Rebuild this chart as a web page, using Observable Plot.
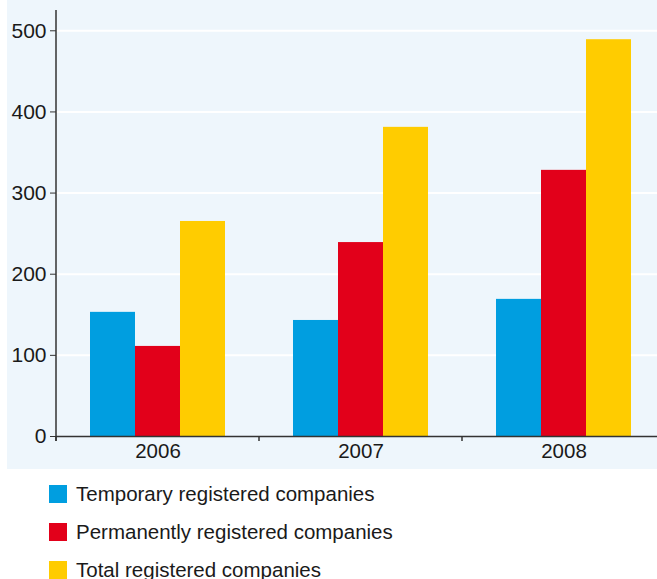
<!DOCTYPE html>
<html>
<head>
<meta charset="utf-8">
<script src="https://cdn.jsdelivr.net/npm/d3@7"></script>
<script src="https://cdn.jsdelivr.net/npm/@observablehq/plot@0.6"></script>
<style>
  html, body { margin: 0; padding: 0; background: #ffffff; }
  body { font-family: "Liberation Sans", Arial, sans-serif; width: 657px; height: 579px; overflow: hidden; }
  #panel { margin-left: 7px; width: 650px; height: 469px; overflow: hidden; background: #eef6fc; }
  #panel svg { max-width: none !important; display: block; }
  #legend { margin-top: 6px; }
  .row { display: flex; align-items: center; height: 38px; font-size: 20.5px; color: #1a1a1a; }
  .sw { width: 18px; height: 18px; margin-left: 49px; margin-right: 9px; }
</style>
</head>
<body>
<div id="panel"></div>
<div id="legend"></div>
<script>
const years = ["2006", "2007", "2008"];
const series = ["Temporary registered companies", "Permanently registered companies", "Total registered companies"];
const colors = ["#009ee0", "#e2001a", "#ffcc00"];
const temporary = [153, 143, 169];
const permanent = [111, 239, 328];
const total = [265, 381, 489];
const yTicks = [0, 100, 200, 300, 400, 500];

const values = [temporary, permanent, total];
const data = [];
years.forEach((yr, i) => series.forEach((s, j) => data.push({year: yr, series: s, value: values[j][i]})));

const W = 658, H = 469, mL = 49, mT = 10, mB = 33;
const chart = Plot.plot({
  width: W, height: H,
  marginLeft: mL, marginRight: 0, marginTop: mT, marginBottom: mB,
  style: {background: "transparent", fontFamily: "Liberation Sans, Arial, sans-serif", fontSize: "20.5px", color: "#1a1a1a", maxWidth: "none"},
  fx: {domain: years, padding: 0, label: null, axis: null},
  x: {domain: series, paddingInner: 0, paddingOuter: 0.74, axis: null},
  y: {domain: [0, 525], label: null, axis: null},
  color: {domain: series, range: colors},
  marks: [
    Plot.gridY(yTicks.filter(d => d > 0), {stroke: "#ffffff", strokeOpacity: 1, strokeWidth: 2}),
    Plot.barY(data, {fx: "year", x: "series", y: "value", fill: "series"}),
    Plot.ruleY([0], {stroke: "#333333", strokeWidth: 1.5}),
    Plot.axisY(yTicks, {anchor: "left", tickSize: 6, tickPadding: 4, stroke: "#333333", fill: "#1a1a1a", fontSize: 21, label: null}),
    Plot.axisFx({anchor: "bottom", tickSize: 0, tickPadding: 7, fontSize: 20.5, fill: "#1a1a1a", label: null})
  ]
});
chart.style.maxWidth = "none";
document.getElementById("panel").appendChild(chart);

// axis line and band-boundary ticks from the library's scales
const fx = chart.scale("fx");
const y = chart.scale("y");
const g = d3.select(chart).append("g").attr("stroke", "#333333").attr("stroke-width", 1.5);
const y0 = y.apply(0);
g.append("line").attr("x1", mL).attr("x2", mL).attr("y1", mT).attr("y2", y0 + 5);
years.forEach(yr => {
  const x = fx.apply(yr);
  g.append("line").attr("x1", x).attr("x2", x).attr("y1", y0).attr("y2", y0 + 5);
});

const legend = d3.select("#legend");
series.forEach((s, i) => {
  const row = legend.append("div").attr("class", "row");
  row.append("div").attr("class", "sw").style("background", colors[i]);
  row.append("span").text(s);
});
</script>
</body>
</html>
